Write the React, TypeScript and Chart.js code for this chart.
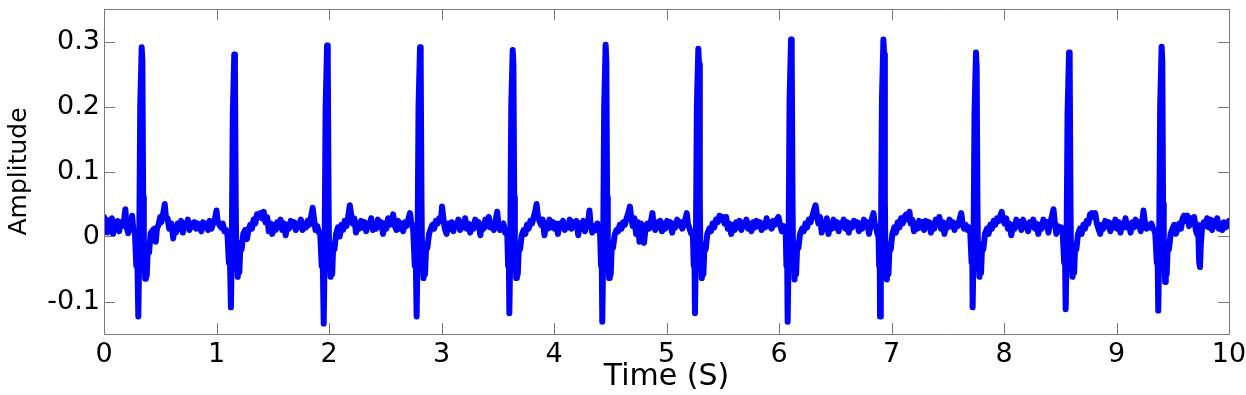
import React, { useEffect, useRef } from "react";
import { Chart, registerables } from "chart.js";

Chart.register(...registerables);

// ECG samples: [time (s), amplitude]
const leadIn: number[][] = [
  [0, 0.03], [0.01, 0.012], [0.02, 0.026], [0.03, 0.006], [0.045, 0.022], [0.06, 0.018], [0.07, 0.028], [0.08, 0.004],
  [0.095, 0.02], [0.11, 0.012], [0.12, 0.024], [0.135, 0.008], [0.15, 0.022], [0.16, 0.016], [0.175, 0.02], [0.19, 0.042],
  [0.2, 0.015], [0.215, 0.005], [0.225, 0.022], [0.24, 0.018], [0.25, 0.032], [0.26, 0.012],
];

const beat01: number[][] = [
  [0.275, 0.005], [0.287, -0.045], [0.295, -0.02], [0.305, -0.123], [0.312, -0.04], [0.322, 0.2], [0.335, 0.291], [0.341, 0.27],
  [0.348, 0.06], [0.354, -0.05], [0.36, -0.02], [0.366, -0.065], [0.372, -0.03], [0.38, -0.06], [0.39, -0.015], [0.4, -0.025],
  [0.415, 0.005], [0.435, 0.01],
  [0.45, 0.012], [0.46, -0.008], [0.47, 0.012], [0.485, 0.018], [0.5, 0.03], [0.51, 0.022], [0.525, 0.034], [0.54, 0.05],
  [0.55, 0.03], [0.565, 0.028], [0.58, 0.012], [0.6, 0.02], [0.615, -0.003], [0.625, 0.012], [0.64, 0.006], [0.655, 0.02],
  [0.67, 0.012], [0.685, 0.024], [0.7, 0.006], [0.715, 0.02], [0.73, 0.014], [0.745, 0.026], [0.76, 0.01], [0.775, 0.02],
  [0.79, 0.015], [0.805, 0.022], [0.82, 0.012], [0.835, 0.02], [0.85, 0.016], [0.865, 0.008], [0.88, 0.022], [0.895, 0.014],
  [0.91, 0.02], [0.925, 0.01], [0.94, 0.024], [0.955, 0.012], [0.97, 0.02], [0.985, 0.026], [1.0, 0.04], [1.01, 0.024],
  [1.025, 0.018], [1.04, 0.014], [1.055, 0.02], [1.07, 0.008], [1.085, 0.01],
];

const beat02: number[][] = [
  [1.098, 0.002], [1.11, -0.04], [1.118, -0.02], [1.128, -0.109], [1.135, -0.035], [1.145, 0.19], [1.158, 0.28], [1.164, 0.26],
  [1.171, 0.05], [1.177, -0.05], [1.183, -0.025], [1.189, -0.062], [1.195, -0.03], [1.203, -0.055], [1.213, -0.01], [1.223, -0.02],
  [1.238, 0.004], [1.255, 0.01],
  [1.27, -0.004], [1.285, 0.01], [1.3, 0.018], [1.315, 0.012], [1.33, 0.026], [1.345, 0.02], [1.36, 0.034], [1.375, 0.03],
  [1.39, 0.036], [1.405, 0.028], [1.42, 0.038], [1.435, 0.022], [1.45, 0.03], [1.465, 0.008], [1.48, 0.02], [1.495, 0.004],
  [1.51, 0.018], [1.525, 0.01], [1.54, 0.022], [1.555, 0.014], [1.57, 0.026], [1.585, 0.01], [1.6, 0.02], [1.615, 0.002],
  [1.63, 0.018], [1.645, 0.012], [1.66, 0.024], [1.675, 0.016], [1.69, 0.022], [1.705, 0.01], [1.72, 0.02], [1.735, 0.014],
  [1.75, 0.026], [1.765, 0.01], [1.78, 0.02], [1.795, 0.014], [1.81, 0.024], [1.825, 0.018], [1.84, 0.03], [1.855, 0.044],
  [1.865, 0.03], [1.88, 0.01], [1.895, 0.016], [1.91, 0.006],
];

const beat03: number[][] = [
  [1.922, 0.004], [1.935, -0.045], [1.943, -0.02], [1.953, -0.134], [1.96, -0.04], [1.97, 0.2], [1.983, 0.294], [1.989, 0.27],
  [1.996, 0.06], [2.002, -0.05], [2.008, -0.02], [2.014, -0.062], [2.02, -0.03], [2.028, -0.058], [2.038, -0.012], [2.048, -0.02],
  [2.063, 0.004], [2.08, 0.014],
  [2.095, 0.0], [2.11, 0.018], [2.125, 0.01], [2.14, 0.024], [2.155, 0.016], [2.17, 0.03], [2.185, 0.048], [2.195, 0.036],
  [2.21, 0.02], [2.225, 0.028], [2.24, 0.006], [2.255, 0.02], [2.27, 0.012], [2.285, 0.024], [2.3, 0.014], [2.315, 0.022],
  [2.33, 0.008], [2.345, 0.02], [2.36, 0.016], [2.375, 0.028], [2.39, 0.01], [2.405, 0.02], [2.42, 0.012], [2.435, 0.026],
  [2.45, 0.016], [2.465, 0.022], [2.48, 0.004], [2.495, 0.02], [2.51, 0.012], [2.525, 0.028], [2.54, 0.018], [2.555, 0.02],
  [2.57, 0.034], [2.585, 0.016], [2.6, 0.01], [2.615, 0.024], [2.63, 0.012], [2.645, 0.02], [2.66, 0.008], [2.675, 0.022],
  [2.69, 0.016], [2.705, 0.026], [2.72, 0.036], [2.73, 0.022], [2.745, 0.014],
];

const beat04: number[][] = [
  [2.75, 0.006], [2.762, -0.045], [2.77, -0.02], [2.779, -0.123], [2.786, -0.04], [2.796, 0.2], [2.809, 0.291], [2.815, 0.27],
  [2.822, 0.06], [2.828, -0.05], [2.834, -0.02], [2.84, -0.064], [2.846, -0.03], [2.854, -0.058], [2.864, -0.012], [2.874, -0.018],
  [2.889, 0.004], [2.905, 0.012],
  [2.92, 0.018], [2.935, 0.012], [2.95, 0.024], [2.965, 0.02], [2.98, 0.028], [2.995, 0.024], [3.005, 0.046], [3.015, 0.03],
  [3.03, 0.012], [3.045, 0.004], [3.06, 0.02], [3.075, 0.012], [3.09, 0.022], [3.105, 0.008], [3.12, 0.02], [3.135, 0.016],
  [3.15, 0.026], [3.165, 0.01], [3.18, 0.022], [3.195, 0.014], [3.21, 0.028], [3.225, 0.012], [3.24, 0.02], [3.255, 0.006],
  [3.27, 0.018], [3.285, 0.012], [3.3, 0.026], [3.315, 0.016], [3.33, 0.022], [3.345, 0.002], [3.36, 0.018], [3.375, 0.012],
  [3.39, 0.026], [3.405, 0.016], [3.42, 0.03], [3.435, 0.014], [3.45, 0.02], [3.465, 0.01], [3.48, 0.024], [3.495, 0.038],
  [3.505, 0.02], [3.52, 0.01], [3.535, 0.016], [3.55, 0.02], [3.565, 0.006], [3.575, 0.01],
];

const beat05: number[][] = [
  [3.585, 0.002], [3.592, -0.045], [3.598, -0.02], [3.603, -0.118], [3.61, -0.04], [3.62, 0.2], [3.633, 0.287], [3.639, 0.265],
  [3.646, 0.06], [3.652, -0.05], [3.658, -0.02], [3.664, -0.064], [3.67, -0.03], [3.678, -0.058], [3.688, -0.012], [3.698, -0.02],
  [3.713, 0.002], [3.73, 0.01],
  [3.745, 0.004], [3.76, 0.018], [3.775, 0.012], [3.79, 0.024], [3.805, 0.02], [3.82, 0.03], [3.835, 0.04], [3.845, 0.05],
  [3.855, 0.034], [3.87, 0.024], [3.885, 0.018], [3.9, 0.026], [3.915, 0.002], [3.93, 0.02], [3.945, 0.012], [3.96, 0.026],
  [3.975, 0.014], [3.99, 0.022], [4.005, 0.012], [4.02, 0.02], [4.035, 0.004], [4.05, 0.02], [4.065, 0.014], [4.08, 0.024],
  [4.095, 0.01], [4.11, 0.018], [4.125, 0.014], [4.14, 0.026], [4.155, 0.012], [4.17, 0.022], [4.185, 0.018], [4.2, 0.024],
  [4.215, 0.002], [4.23, 0.02], [4.245, 0.012], [4.26, 0.024], [4.275, 0.008], [4.29, 0.022], [4.305, 0.026], [4.315, 0.04],
  [4.325, 0.018], [4.34, 0.006], [4.355, 0.016], [4.37, 0.01], [4.385, 0.02], [4.4, 0.008],
];

const beat06: number[][] = [
  [4.41, 0.004], [4.418, -0.045], [4.424, -0.02], [4.429, -0.131], [4.436, -0.04], [4.446, 0.2], [4.459, 0.295], [4.465, 0.27],
  [4.472, 0.06], [4.478, -0.05], [4.484, -0.02], [4.49, -0.064], [4.496, -0.03], [4.504, -0.058], [4.514, -0.012], [4.524, -0.018],
  [4.539, 0.002], [4.555, 0.01],
  [4.57, 0.008], [4.585, 0.018], [4.6, 0.012], [4.615, 0.022], [4.63, 0.018], [4.645, 0.028], [4.66, 0.036], [4.675, 0.046],
  [4.685, 0.03], [4.7, 0.016], [4.715, 0.028], [4.73, 0.004], [4.745, 0.022], [4.76, -0.008], [4.775, 0.02], [4.79, 0.004],
  [4.8, -0.01], [4.815, 0.014], [4.83, 0.02], [4.845, 0.012], [4.86, 0.022], [4.875, 0.036], [4.885, 0.018], [4.9, 0.01],
  [4.915, 0.022], [4.93, 0.014], [4.945, 0.024], [4.96, 0.008], [4.975, 0.02], [4.99, 0.012], [5.005, 0.024], [5.02, 0.016],
  [5.035, 0.022], [5.05, 0.006], [5.065, 0.02], [5.08, 0.014], [5.095, 0.026], [5.11, 0.018], [5.125, 0.022], [5.14, 0.012],
  [5.155, 0.02], [5.17, 0.028], [5.18, 0.036], [5.19, 0.02], [5.205, 0.012], [5.22, 0.004], [5.23, 0.006],
];

const beat07: number[][] = [
  [5.235, 0.0], [5.242, -0.045], [5.248, -0.02], [5.253, -0.118], [5.26, -0.04], [5.27, 0.2], [5.283, 0.289], [5.289, 0.265],
  [5.296, 0.06], [5.302, -0.05], [5.308, -0.02], [5.314, -0.064], [5.32, -0.03], [5.328, -0.058], [5.338, -0.012], [5.348, -0.02],
  [5.363, 0.004], [5.38, 0.012],
  [5.395, 0.008], [5.41, 0.02], [5.425, 0.014], [5.44, 0.026], [5.455, 0.022], [5.47, 0.032], [5.485, 0.026], [5.5, 0.03],
  [5.515, 0.02], [5.53, 0.03], [5.545, 0.012], [5.56, 0.02], [5.575, 0.004], [5.59, 0.018], [5.605, 0.01], [5.62, 0.022],
  [5.635, 0.014], [5.65, 0.024], [5.665, 0.01], [5.68, 0.02], [5.695, 0.016], [5.71, 0.026], [5.725, 0.012], [5.74, 0.02],
  [5.755, 0.008], [5.77, 0.022], [5.785, 0.014], [5.8, 0.024], [5.815, 0.016], [5.83, 0.022], [5.845, 0.01], [5.86, 0.02],
  [5.875, 0.014], [5.89, 0.028], [5.905, 0.016], [5.92, 0.022], [5.935, 0.012], [5.95, 0.024], [5.965, 0.018], [5.98, 0.026],
  [5.995, 0.03], [6.01, 0.018], [6.025, 0.008], [6.04, 0.016], [6.055, 0.006],
];

const beat08: number[][] = [
  [6.06, 0.004], [6.066, -0.045], [6.072, -0.02], [6.077, -0.131], [6.084, -0.04], [6.094, 0.21], [6.107, 0.303], [6.113, 0.28],
  [6.12, 0.06], [6.126, -0.05], [6.132, -0.02], [6.138, -0.066], [6.144, -0.03], [6.152, -0.058], [6.162, -0.012], [6.172, -0.018],
  [6.187, 0.004], [6.205, 0.012],
  [6.22, 0.008], [6.235, 0.02], [6.25, 0.014], [6.265, 0.026], [6.28, 0.022], [6.295, 0.03], [6.31, 0.04], [6.325, 0.048],
  [6.335, 0.036], [6.35, 0.02], [6.365, 0.03], [6.38, 0.006], [6.395, 0.022], [6.41, 0.012], [6.425, 0.028], [6.44, 0.004],
  [6.455, 0.02], [6.47, 0.012], [6.485, 0.026], [6.5, 0.014], [6.515, 0.022], [6.53, 0.008], [6.545, 0.02], [6.56, 0.016],
  [6.575, 0.026], [6.59, 0.012], [6.605, 0.022], [6.62, 0.006], [6.635, 0.02], [6.65, 0.014], [6.665, 0.024], [6.68, 0.018],
  [6.695, 0.022], [6.71, 0.008], [6.725, 0.02], [6.74, 0.012], [6.755, 0.026], [6.77, 0.016], [6.785, 0.022], [6.8, 0.004],
  [6.815, 0.018], [6.83, 0.03], [6.84, 0.036], [6.85, 0.02], [6.865, 0.012], [6.875, 0.004],
];

const beat09: number[][] = [
  [6.885, 0.0], [6.89, -0.045], [6.895, -0.02], [6.898, -0.123], [6.905, -0.04], [6.915, 0.21], [6.928, 0.303], [6.934, 0.28],
  [6.941, 0.06], [6.947, -0.05], [6.953, -0.02], [6.959, -0.066], [6.965, -0.03], [6.973, -0.058], [6.983, -0.012], [6.993, -0.02],
  [7.008, 0.004], [7.025, 0.014],
  [7.04, 0.006], [7.055, 0.022], [7.07, 0.014], [7.085, 0.028], [7.1, 0.02], [7.115, 0.03], [7.13, 0.034], [7.145, 0.026],
  [7.16, 0.038], [7.17, 0.02], [7.185, 0.026], [7.2, 0.008], [7.215, 0.02], [7.23, 0.012], [7.245, 0.024], [7.26, 0.014],
  [7.275, 0.022], [7.29, 0.01], [7.305, 0.024], [7.32, 0.016], [7.335, 0.022], [7.35, 0.006], [7.365, 0.02], [7.38, 0.012],
  [7.395, 0.026], [7.41, 0.018], [7.425, 0.03], [7.44, 0.012], [7.455, 0.022], [7.47, 0.004], [7.485, 0.02], [7.5, 0.014],
  [7.515, 0.026], [7.53, 0.016], [7.545, 0.022], [7.56, 0.01], [7.575, 0.02], [7.59, 0.016], [7.605, 0.026], [7.62, 0.036],
  [7.63, 0.022], [7.645, 0.012], [7.66, 0.018], [7.675, 0.01], [7.69, 0.014],
];

const beat10: number[][] = [
  [7.7, 0.006], [7.712, -0.04], [7.718, -0.02], [7.721, -0.109], [7.728, -0.04], [7.738, 0.19], [7.751, 0.283], [7.757, 0.26],
  [7.764, 0.05], [7.77, -0.05], [7.776, -0.02], [7.782, -0.062], [7.788, -0.03], [7.796, -0.056], [7.806, -0.012], [7.816, -0.02],
  [7.831, 0.004], [7.848, 0.012],
  [7.863, 0.004], [7.878, 0.018], [7.893, 0.012], [7.908, 0.024], [7.923, 0.018], [7.938, 0.028], [7.953, 0.024], [7.968, 0.032],
  [7.98, 0.038], [7.99, 0.026], [8.005, 0.02], [8.02, 0.028], [8.035, 0.012], [8.05, 0.02], [8.065, 0.002], [8.08, 0.018],
  [8.095, 0.012], [8.11, 0.026], [8.125, 0.016], [8.14, 0.022], [8.155, 0.01], [8.17, 0.026], [8.185, 0.014], [8.2, 0.02],
  [8.215, 0.008], [8.23, 0.022], [8.245, 0.016], [8.26, 0.026], [8.275, 0.012], [8.29, 0.02], [8.305, 0.004], [8.32, 0.018],
  [8.335, 0.012], [8.35, 0.026], [8.365, 0.02], [8.38, 0.022], [8.395, 0.006], [8.41, 0.022], [8.425, 0.03], [8.44, 0.042],
  [8.45, 0.024], [8.465, 0.004], [8.48, 0.016], [8.495, 0.01], [8.51, 0.014],
];

const beat11: number[][] = [
  [8.522, 0.004], [8.535, -0.04], [8.542, -0.02], [8.548, -0.112], [8.555, -0.04], [8.565, 0.19], [8.578, 0.283], [8.584, 0.26],
  [8.591, 0.05], [8.597, -0.05], [8.603, -0.02], [8.609, -0.062], [8.615, -0.03], [8.623, -0.056], [8.633, -0.012], [8.643, -0.02],
  [8.658, 0.004], [8.675, 0.012],
  [8.69, 0.004], [8.705, 0.018], [8.72, 0.012], [8.735, 0.024], [8.75, 0.02], [8.765, 0.034], [8.78, 0.036], [8.795, 0.03],
  [8.81, 0.036], [8.825, 0.02], [8.84, 0.012], [8.855, 0.004], [8.87, 0.018], [8.885, 0.012], [8.9, 0.024], [8.915, 0.016],
  [8.93, 0.022], [8.945, 0.008], [8.96, 0.02], [8.975, 0.014], [8.99, 0.026], [9.005, 0.012], [9.02, 0.022], [9.035, 0.006],
  [9.05, 0.02], [9.065, 0.014], [9.08, 0.028], [9.095, 0.014], [9.11, 0.02], [9.125, 0.006], [9.14, 0.022], [9.155, 0.014],
  [9.17, 0.026], [9.185, 0.016], [9.2, 0.022], [9.215, 0.008], [9.23, 0.024], [9.24, 0.04], [9.25, 0.024], [9.265, 0.012],
  [9.28, 0.018], [9.295, 0.014], [9.31, 0.02], [9.325, 0.012], [9.335, 0.01],
];

const beat12: number[][] = [
  [9.345, 0.004], [9.358, -0.04], [9.365, -0.02], [9.371, -0.114], [9.378, -0.04], [9.388, 0.2], [9.401, 0.292], [9.407, 0.27],
  [9.414, 0.05], [9.42, -0.05], [9.426, -0.02], [9.432, -0.07], [9.438, -0.03], [9.446, -0.058], [9.456, -0.012], [9.466, -0.02],
  [9.481, 0.004], [9.498, 0.012],
  [9.513, 0.018], [9.528, 0.004], [9.543, 0.012], [9.558, 0.02], [9.573, 0.012], [9.588, 0.028], [9.6, 0.032], [9.615, 0.024],
  [9.63, 0.032], [9.645, 0.016], [9.66, 0.028], [9.675, 0.02], [9.69, 0.03], [9.705, 0.01], [9.715, 0.004], [9.725, 0.018],
  [9.735, -0.04], [9.742, -0.047], [9.75, -0.01], [9.76, 0.012], [9.775, 0.022], [9.79, 0.016], [9.805, 0.028], [9.82, 0.014],
  [9.835, 0.026], [9.85, 0.01], [9.865, 0.024], [9.88, 0.016], [9.895, 0.028], [9.91, 0.012], [9.925, 0.02], [9.94, 0.01],
  [9.955, 0.022], [9.97, 0.014], [9.985, 0.016], [10.0, 0.024],
];

const xTickValues = [0, 1, 2, 3, 4, 5, 6, 7, 8, 9, 10];
const yTickValues = [-0.1, 0, 0.1, 0.2, 0.3];
const yTickLabels = ["-0.1", "0", "0.1", "0.2", "0.3"];

const FONT = "'DejaVu Sans', Verdana, sans-serif";

const framePlugin = {
  id: "matlabFrame",
  afterDatasetsDraw(chart: any) {
    const { ctx, chartArea, scales } = chart;
    const { left, right, top, bottom } = chartArea;
    const tick = 11;
    ctx.save();
    ctx.strokeStyle = "#7a7a7a";
    ctx.lineWidth = 1;
    ctx.beginPath();
    ctx.rect(Math.round(left) + 0.5, Math.round(top) + 0.5, Math.round(right - left), Math.round(bottom - top));
    for (const v of xTickValues) {
      const px = Math.round(scales.x.getPixelForValue(v)) + 0.5;
      ctx.moveTo(px, bottom);
      ctx.lineTo(px, bottom - tick);
      ctx.moveTo(px, top);
      ctx.lineTo(px, top + tick);
    }
    for (const v of yTickValues) {
      const py = Math.round(scales.y.getPixelForValue(v)) + 0.5;
      ctx.moveTo(left, py);
      ctx.lineTo(left + tick, py);
      ctx.moveTo(right, py);
      ctx.lineTo(right - tick, py);
    }
    ctx.stroke();
    ctx.restore();
  },
};

export default function App() {
  const canvasRef = useRef<HTMLCanvasElement | null>(null);

  useEffect(() => {
    document.body.style.margin = "0";
    const canvas = canvasRef.current;
    if (!canvas) return;
    const samples = [
      ...leadIn, ...beat01, ...beat02, ...beat03, ...beat04, ...beat05, ...beat06,
      ...beat07, ...beat08, ...beat09, ...beat10, ...beat11, ...beat12,
    ].map(([x, y]) => ({ x, y }));

    const chart = new Chart(canvas, {
      type: "line",
      data: {
        datasets: [
          {
            data: samples,
            borderColor: "#0000ff",
            borderWidth: 6,
            pointRadius: 0,
            tension: 0,
            borderJoinStyle: "round",
            borderCapStyle: "round",
            fill: false,
          },
        ],
      },
      options: {
        responsive: false,
        animation: false,
        devicePixelRatio: 1,
        layout: { padding: { top: 9, right: 17, left: 0, bottom: 0 } },
        plugins: { legend: { display: false }, tooltip: { enabled: false } },
        scales: {
          x: {
            type: "linear",
            min: 0,
            max: 10,
            afterBuildTicks: (scale: any) => {
              scale.ticks = xTickValues.map((v) => ({ value: v }));
            },
            afterFit: (scale: any) => {
              scale.height = 61;
              scale.paddingLeft = 0;
              scale.paddingRight = 0;
            },
            grid: { display: false, drawTicks: false },
            border: { display: false },
            ticks: {
              color: "#000",
              font: { family: FONT, size: 27 },
              padding: 5,
              maxRotation: 0,
              autoSkip: false,
              callback: (v: any) => String(v),
            },
            title: {
              display: true,
              text: "Time (S)",
              color: "#000",
              font: { family: FONT, size: 30 },
              padding: { top: 0, bottom: 0 },
            },
          },
          y: {
            type: "linear",
            min: -0.15,
            max: 0.35,
            afterBuildTicks: (scale: any) => {
              scale.ticks = yTickValues.map((v) => ({ value: v }));
            },
            afterFit: (scale: any) => {
              scale.width = 104;
              scale.paddingTop = 0;
              scale.paddingBottom = 0;
            },
            grid: { display: false, drawTicks: false },
            border: { display: false },
            ticks: {
              color: "#000",
              font: { family: FONT, size: 27 },
              padding: 4,
              autoSkip: false,
              callback: (v: any) => {
                const i = yTickValues.indexOf(Number(v));
                return i >= 0 ? yTickLabels[i] : "";
              },
            },
            title: {
              display: true,
              text: "Amplitude",
              color: "#000",
              font: { family: FONT, size: 25 },
              padding: { top: 4, bottom: 0 },
            },
          },
        },
      },
      plugins: [framePlugin],
    });
    return () => chart.destroy();
  }, []);

  return (
    <div style={{ width: 1246, height: 395, background: "#fff" }}>
      <canvas ref={canvasRef} width={1246} height={395} style={{ display: "block" }} />
    </div>
  );
}
